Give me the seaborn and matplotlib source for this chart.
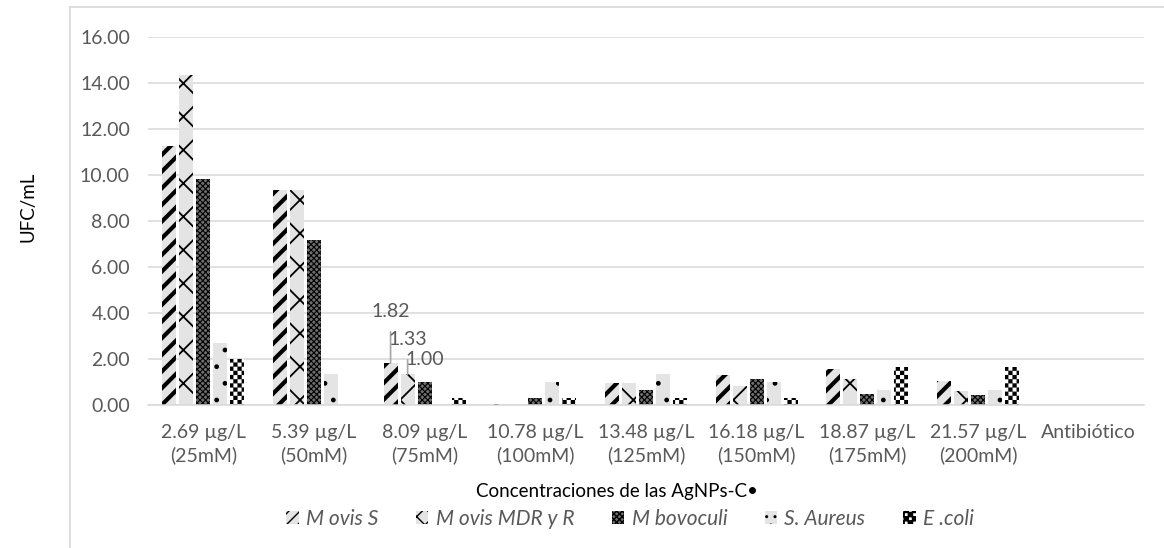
import numpy as np
import pandas as pd
import matplotlib
matplotlib.use("Agg")
import matplotlib.pyplot as plt
from matplotlib import hatch as mhatch
from matplotlib.path import Path
from matplotlib.patches import Patch
from matplotlib.lines import Line2D
import seaborn as sns
import warnings

warnings.filterwarnings("ignore")

# data
groups = ["2.69 µg/L\n(25mM)", "5.39 µg/L\n(50mM)", "8.09 µg/L\n(75mM)",
          "10.78 µg/L\n(100mM)", "13.48 µg/L\n(125mM)", "16.18 µg/L\n(150mM)",
          "18.87 µg/L\n(175mM)", "21.57 µg/L\n(200mM)", "Antibiótico"]
series = ["M ovis S", "M ovis MDR y R", "M bovoculi", "S. Aureus", "E .coli"]
ovis_s = [11.27, 9.35, 1.82, 0.05, 0.94, 1.30, 1.55, 1.03, 0]
ovis_mdr = [14.33, 9.35, 1.33, 0.0, 0.97, 0.83, 1.15, 0.60, 0]
bovoculi = [9.83, 7.17, 1.00, 0.30, 0.67, 1.15, 0.50, 0.45, 0]
s_aureus = [2.68, 1.33, 0.0, 1.00, 1.33, 1.00, 0.65, 0.65, 0]
e_coli = [2.00, 0.0, 0.30, 0.30, 0.30, 0.30, 1.65, 1.65, 0]


# checkerboard hatch, like the Excel "large checker" pattern
class CheckerHatch(mhatch.HatchPatternBase):
    def __init__(self, hatch, density):
        self.n = 24 if "c" in hatch else 0
        self.num_vertices = (self.n * self.n // 2) * 5

    def set_vertices_and_codes(self, vertices, codes):
        step = 1.0 / self.n
        k = 0
        for i in range(self.n):
            for j in range(self.n):
                if (i + j) % 2:
                    continue
                x0, y0 = i * step, j * step
                vertices[k:k + 5] = [(x0, y0), (x0 + step, y0), (x0 + step, y0 + step),
                                     (x0, y0 + step), (x0, y0)]
                codes[k:k + 5] = [Path.MOVETO, Path.LINETO, Path.LINETO, Path.LINETO,
                                  Path.CLOSEPOLY]
                k += 5


mhatch._hatch_types.append(CheckerHatch)

values = [ovis_s, ovis_mdr, bovoculi, s_aureus, e_coli]
rows = []
for name, vals in zip(series, values):
    for g, v in zip(groups, vals):
        rows.append({"grupo": g, "serie": name, "ufc": v})
df = pd.DataFrame(rows)

# fill / hatch per series (face, hatch colour, bar hatch, hatch lw, legend hatch)
styles = [
    ("#e4e4e4", "black", "//", 3.0, "///"),
    ("#e4e4e4", "black", "x", 1.3, "xx"),
    ("#6e6e6e", "black", "xxxxxx", 0.8, "xxxxxx"),
    ("#e4e4e4", "black", ".", 1.0, ".."),
    ("white", "black", "c", 0.1, "c"),
]

sns.set_style("white")
plt.rcParams["font.family"] = ["Lato", "DejaVu Sans"]
grey = "#595959"

fig = plt.figure(figsize=(11.64, 5.48), dpi=100)
ax = fig.add_axes([148 / 1164, 1 - 405 / 548, (1144 - 148) / 1164, (405 - 37) / 548])

sns.barplot(data=df, x="grupo", y="ufc", hue="serie", hue_order=series,
            order=groups, width=0.77, gap=0.18, palette=[s[0] for s in styles],
            legend=False, ax=ax, errorbar=None)

for cont, (fc, hc, hatch, hlw, _) in zip(ax.containers, styles):
    for bar in cont:
        bar.set_facecolor(fc)
        bar.set_edgecolor(hc)
        bar.set_linewidth(0)
        bar.set_hatch(hatch)
        if hasattr(bar, "set_hatch_linewidth"):
            bar.set_hatch_linewidth(hlw)

ax.set_ylim(0, 16)
ax.set_yticks(np.arange(0, 17, 2))
ax.set_yticklabels([f"{v:.2f}" for v in np.arange(0, 17, 2)])
ax.yaxis.grid(True, color="#d9d9d9", lw=1.1)
ax.set_axisbelow(True)
for side in ["top", "right", "left"]:
    ax.spines[side].set_visible(False)
ax.spines["bottom"].set_color("#d9d9d9")
ax.spines["bottom"].set_linewidth(1.1)
ax.tick_params(axis="both", length=0, colors=grey)
ax.tick_params(axis="y", pad=13, labelsize=14)
ax.tick_params(axis="x", pad=14, labelsize=14)
for lab in ax.get_xticklabels():
    lab.set_linespacing(1.35)
ax.set_xlabel("")
ax.set_ylabel("")

# data labels on the 75mM group
lab_kw = dict(textcoords="offset points", ha="center", va="center", fontsize=14, color=grey)
line_kw = dict(arrowstyle="-", color="#a6a6a6", lw=1.2, shrinkA=6, shrinkB=0)
b = ax.containers[0][2]
ax.annotate("1.82", xy=(b.get_x() + b.get_width() / 2, ovis_s[2]), xytext=(0, 37),
            arrowprops=line_kw, **lab_kw)
b = ax.containers[1][2]
ax.annotate("1.33", xy=(b.get_x() + b.get_width() / 2, ovis_mdr[2]), xytext=(0, 25),
            arrowprops=line_kw, **lab_kw)
b = ax.containers[2][2]
ax.annotate("1.00", xy=(b.get_x() + b.get_width() / 2, bovoculi[2]), xytext=(0, 16), **lab_kw)

fig.text(28 / 1164, 1 - 207 / 548, "UFC/mL", rotation=90, ha="center", va="center",
         fontsize=13.5, color="black")
fig.text(617 / 1164, 1 - 492 / 548, "Concentraciones de las AgNPs-C\u2022", ha="center",
         va="center", fontsize=13.5, color="black")

handles = []
for fc, hc, hatch, hlw, lh in styles:
    p = Patch(facecolor=fc, edgecolor=hc, linewidth=0, hatch=lh)
    if hasattr(p, "set_hatch_linewidth"):
        p.set_hatch_linewidth(min(hlw, 1.2))
    handles.append(p)
leg = fig.legend(handles, series, loc="center", bbox_to_anchor=(630 / 1164, 1 - 519 / 548),
                 ncol=5, frameon=False, handlelength=0.6, handleheight=0.6,
                 handletextpad=0.35, columnspacing=1.8,
                 prop={"style": "italic", "size": 15, "family": ["Lato", "DejaVu Sans"]})
for t in leg.get_texts():
    t.set_color(grey)

# chart area border (left and top edges visible)
fig.add_artist(Line2D([70 / 1164, 70 / 1164], [0, 1 - 7 / 548], color="#d9d9d9", lw=1.2))
fig.add_artist(Line2D([70 / 1164, 1], [1 - 7 / 548, 1 - 7 / 548], color="#d9d9d9", lw=1.2))

fig.savefig("out.png", dpi=100)
